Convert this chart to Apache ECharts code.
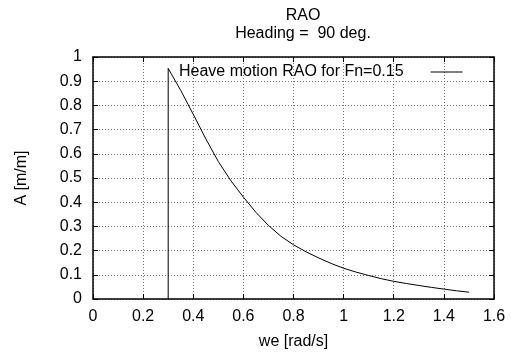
<!DOCTYPE html>
<html>
<head>
<meta charset="utf-8">
<script src="https://cdn.jsdelivr.net/npm/echarts@6/dist/echarts.min.js"></script>
<style>html,body{margin:0;padding:0;background:#fff}#c{width:511px;height:356px}</style>
</head>
<body>
<div id="c"></div>
<script>
const titleLines = ["RAO", "Heading =  90 deg."];
const seriesName = "Heave motion RAO for Fn=0.15";
const xLabel = "we [rad/s]";
const yLabel = "A [m/m]";
const we = [0.30, 0.30, 0.35, 0.40, 0.45, 0.50, 0.55, 0.60, 0.65, 0.70, 0.75, 0.80, 0.85, 0.90, 0.95, 1.00, 1.05, 1.10, 1.15, 1.20, 1.25, 1.30, 1.35, 1.40, 1.45, 1.50];
const amp = [0.000, 0.953, 0.862, 0.763, 0.662, 0.568, 0.489, 0.421, 0.358, 0.304, 0.259, 0.224, 0.195, 0.170, 0.147, 0.127, 0.111, 0.097, 0.084, 0.073, 0.064, 0.056, 0.048, 0.041, 0.034, 0.028];
const xTicks = {min: 0, max: 1.6, step: 0.2};
const yTicks = {min: 0, max: 1, step: 0.1};

const FONT = "Liberation Sans";
const FS = 16;
const chart = echarts.init(document.getElementById('c'), null, {renderer: 'canvas'});
const gridLine = {show: true, lineStyle: {type: [1, 2], color: '#777', width: 1}};
const axisLine = {show: true, onZero: false, lineStyle: {color: '#000', width: 1.5}};
const tick = {show: true, inside: true, length: 5, lineStyle: {color: '#000', width: 1}};
const lbl = {color: '#000', fontFamily: FONT, fontSize: FS};
chart.setOption({
  animation: false,
  textStyle: {fontFamily: FONT},
  title: {
    text: titleLines.join('\n'), left: 298, top: 2, textAlign: 'center',
    textStyle: {fontFamily: FONT, fontSize: FS, fontWeight: 'normal', color: '#000', lineHeight: 18}
  },
  legend: {
    show: true, left: 174, top: 59, align: 'right', itemWidth: 32, itemHeight: 1,
    icon: 'rect', itemStyle: {color: '#000'},
    textStyle: {fontFamily: FONT, fontSize: FS, color: '#000', padding: [0, 22, 0, 0]},
    data: [seriesName]
  },
  grid: {left: 93, right: 17, top: 57, bottom: 57},
  xAxis: [
    {type: 'value', min: xTicks.min, max: xTicks.max, interval: xTicks.step, position: 'bottom',
     name: xLabel, nameLocation: 'middle', nameGap: 35, nameTextStyle: lbl,
     axisLine, axisTick: tick, splitLine: gridLine, axisLabel: Object.assign({margin: 10}, lbl)},
    {type: 'value', min: xTicks.min, max: xTicks.max, interval: xTicks.step, position: 'top',
     axisLine, axisTick: tick, splitLine: {show: false}, axisLabel: {show: false}}
  ],
  yAxis: [
    {type: 'value', min: yTicks.min, max: yTicks.max, interval: yTicks.step, position: 'left',
     name: yLabel, nameLocation: 'middle', nameGap: 63, nameTextStyle: lbl,
     axisLine, axisTick: tick, splitLine: gridLine, axisLabel: Object.assign({margin: 11}, lbl)},
    {type: 'value', min: yTicks.min, max: yTicks.max, interval: yTicks.step, position: 'right',
     axisLine, axisTick: tick, splitLine: {show: false}, axisLabel: {show: false}}
  ],
  series: [{
    name: seriesName, type: 'line', showSymbol: false, symbol: 'none', smooth: false,
    lineStyle: {color: '#000', width: 1}, itemStyle: {color: '#000'},
    data: we.map((x, i) => [x, amp[i]])
  }]
});
</script>
</body>
</html>
